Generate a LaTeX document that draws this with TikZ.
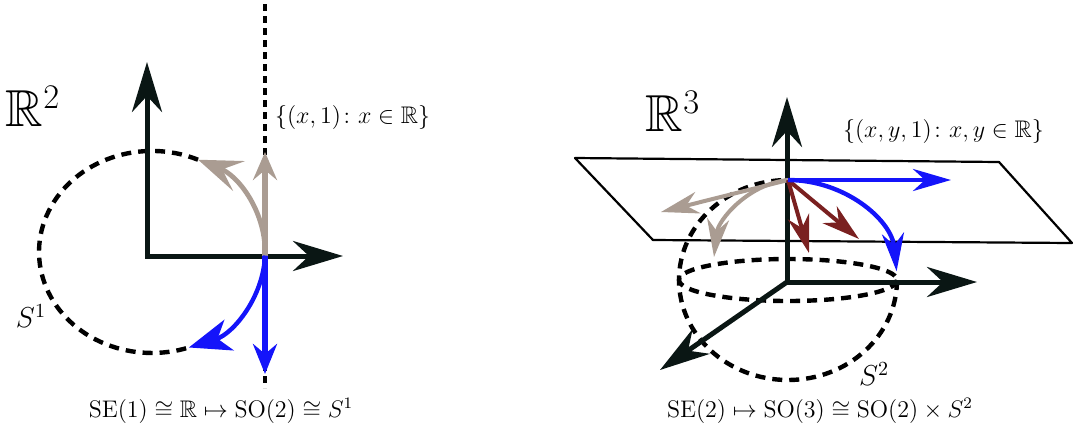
\documentclass[tikz,border=0pt]{standalone}
\usepackage{amsmath,amssymb}
\usetikzlibrary{arrows.meta}

\definecolor{axisblack}{RGB}{10,22,20}
\definecolor{taupe}{RGB}{170,156,146}
\definecolor{liftblue}{RGB}{20,20,250}
\definecolor{tanred}{RGB}{122,32,32}

\begin{document}
\begin{tikzpicture}[x=0.5pt, y=-0.5pt,
  axis/.style={line width=2.5pt, draw=axisblack},
  axes/.style={axis, {Stealth[length=25pt, width=15pt, inset=8pt]}-{Stealth[length=25pt, width=15pt, inset=8pt]}},
  axone/.style={axis, -{Stealth[length=25pt, width=15pt, inset=8pt]}},
  orbit/.style={line width=2.2pt, dash pattern=on 5pt off 3.5pt},
  fibre/.style={line width=1.6pt, dash pattern=on 3.5pt off 2.5pt},
  plane/.style={line width=1.1pt, line join=round},
  tanv/.style={line width=2.6pt, draw=taupe, -{Stealth[length=14pt, width=12pt, inset=5pt]}},
  liftv/.style={line width=2.6pt, draw=liftblue, -{Stealth[length=15pt, width=12pt, inset=5pt]}},
  tanarc/.style={line width=2.4pt, draw=taupe, -{Stealth[length=22pt, width=16pt, inset=9pt]}},
  liftarc/.style={line width=2.2pt, draw=liftblue, -{Stealth[length=21pt, width=16pt, inset=6pt]}},
  thinv/.style={line width=2pt, -{Stealth[length=19pt, width=11pt, inset=6pt]}},
  lab/.style={font=\large},
  slab/.style={font=\Large},
  big/.style={font=\fontsize{26}{30}\selectfont}]
  \useasboundingbox (0,0) rectangle (1076,430);

  % left: R^2, the line y=1 and the circle
  \coordinate (ol) at (147,256);
  \coordinate (xl) at (343,256);
  \coordinate (yl) at (147,62);
  \coordinate (pl) at (265,255.5);
  \coordinate (gs) at (198,159.7);
  \coordinate (lt) at (265,4);
  \coordinate (lb) at (265,388);
  \coordinate (gl) at (265,152);
  \coordinate (bl) at (265,374);
  \draw[fibre] (lt) -- (lb);
  \draw[orbit] (gs) arc[start angle=-66, end angle=-289, x radius=113, y radius=101];
  \draw[axes] (yl) -- (ol) -- (xl);
  \draw[tanarc] (pl) arc[start angle=2, end angle=-66, x radius=113, y radius=101];
  \draw[tanv] (pl) -- (gl);
  \draw[liftarc] (pl) arc[start angle=2, end angle=71, x radius=113, y radius=101];
  \draw[liftv] (pl) -- (bl);
  \node[big] (rtwo) at (33,106) {$\mathbb{R}^2$};
  \node[lab, anchor=west] (linel) at (268,117) {$\{(x,1)\colon x\in\mathbb{R}\}$};
  \node[slab] (sone) at (31,316) {$S^1$};
  \node[lab] (capl) at (221,411) {$\mathrm{SE}(1)\cong\mathbb{R}\mapsto\mathrm{SO}(2)\cong S^1$};

  % right: R^3, the plane z=1 and the sphere
  \coordinate (p1) at (575,158);
  \coordinate (p2) at (999,162);
  \coordinate (p3) at (1072,243);
  \coordinate (p4) at (653,240);
  \draw[plane] (p1) -- (p2) -- (p3) -- (p4) -- cycle;
  \coordinate (cs) at (788,280);
  \coordinate (sr) at (897,280);
  \draw[orbit] (sr) arc[start angle=0, end angle=270, x radius=109, y radius=100];
  \draw[orbit] (cs) ellipse[x radius=109, y radius=21];
  \coordinate (or) at (787,282);
  \coordinate (xr) at (977,282);
  \coordinate (zr) at (787,97);
  \coordinate (dr) at (660,370);
  \draw[axes] (zr) -- (or) -- (xr);
  \draw[axone] (or) -- (dr);
  \coordinate (pr) at (788,180);
  \coordinate (gr) at (661,212);
  \coordinate (ga) at (714,257);
  \coordinate (rr) at (809,253);
  \coordinate (rs) at (859,239);
  \coordinate (br) at (951,180);
  \draw[thinv, taupe] (pr) -- (gr);
  \draw[thinv, taupe] (pr) .. controls (748,184) and (718,220) .. (ga);
  \draw[thinv, tanred] (pr) -- (rr);
  \draw[thinv, tanred] (pr) -- (rs);
  \draw[thinv, liftblue, line width=2.2pt] (pr) -- (br);
  \draw[thinv, liftblue, line width=2.2pt] (pr) arc[start angle=-90, end angle=-5, x radius=109, y radius=100];
  \node[big] (rthree) at (673,111) {$\mathbb{R}^3$};
  \node[lab, anchor=west] (planel) at (836,131) {$\{(x,y,1)\colon x,y\in\mathbb{R}\}$};
  \node[slab] (stwo) at (874,374) {$S^2$};
  \node[lab] (capr) at (820,411) {$\mathrm{SE}(2)\mapsto\mathrm{SO}(3)\cong\mathrm{SO}(2)\times S^2$};
\end{tikzpicture}
\end{document}
